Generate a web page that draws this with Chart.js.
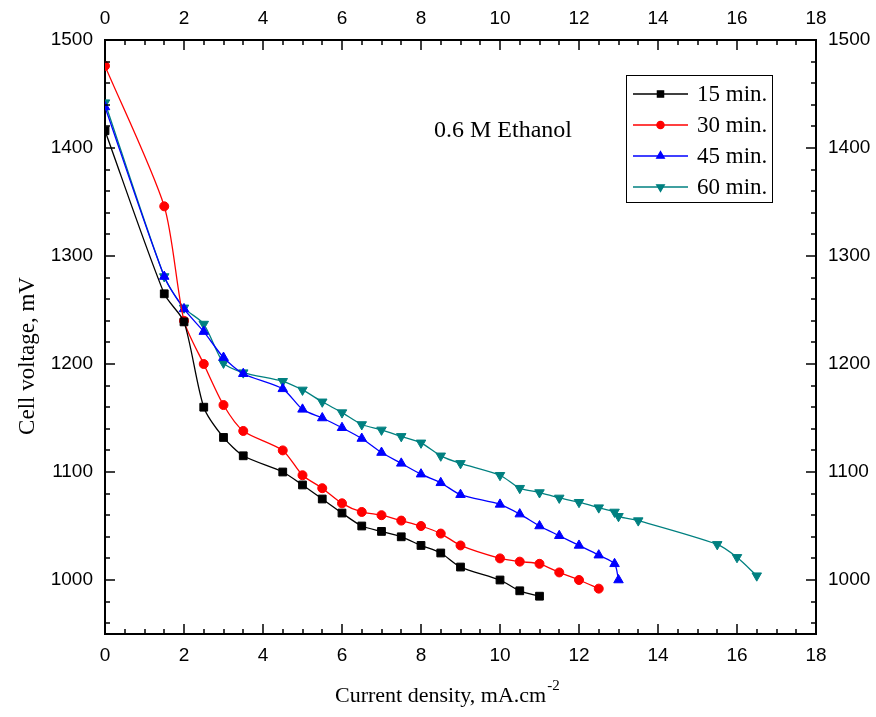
<!DOCTYPE html>
<html>
<head>
<meta charset="utf-8">
<script src="https://cdn.jsdelivr.net/npm/chart.js@4"></script>
<style>
  html, body { margin: 0; padding: 0; background: #fff; }
  #wrap { width: 876px; height: 717px; }
</style>
</head>
<body>
<div id="wrap"><canvas id="cv" width="876" height="717"></canvas></div>
<script>
// current density, mA.cm-2 / cell voltage, mV
const x15 = [0, 1.5, 2, 2.5, 3, 3.5, 4.5, 5, 5.5, 6, 6.5, 7, 7.5, 8, 8.5, 9, 10, 10.5, 11];
const v15 = [1416, 1265, 1239, 1160, 1132, 1115, 1100, 1088, 1075, 1062, 1050, 1045, 1040, 1032, 1025, 1012, 1000, 990, 985];

const x30 = [0, 1.5, 2, 2.5, 3, 3.5, 4.5, 5, 5.5, 6, 6.5, 7, 7.5, 8, 8.5, 9, 10, 10.5, 11, 11.5, 12, 12.5];
const v30 = [1476, 1346, 1240, 1200, 1162, 1138, 1120, 1097, 1085, 1071, 1063, 1060, 1055, 1050, 1043, 1032, 1020, 1017, 1015, 1007, 1000, 992];

const x45 = [0, 1.5, 2, 2.5, 3, 3.5, 4.5, 5, 5.5, 6, 6.5, 7, 7.5, 8, 8.5, 9, 10, 10.5, 11, 11.5, 12, 12.5, 12.9, 13];
const v45 = [1438, 1281, 1251, 1230, 1206, 1191, 1177, 1158, 1150, 1141, 1131, 1118, 1108, 1098, 1090, 1079, 1070, 1061, 1050, 1041, 1032, 1023, 1015, 1000];

const x60 = [0, 1.5, 2, 2.5, 3, 3.5, 4.5, 5, 5.5, 6, 6.5, 7, 7.5, 8, 8.5, 9, 10, 10.5, 11, 11.5, 12, 12.5, 12.9, 13, 13.5, 15.5, 16, 16.5];
const v60 = [1442, 1281, 1252, 1237, 1201, 1192, 1184, 1176, 1165, 1155, 1144, 1139, 1133, 1127, 1115, 1108, 1097, 1085, 1081, 1076, 1072, 1067, 1063, 1059, 1055, 1033, 1021, 1004];

const seriesLabels = ["15 min.", "30 min.", "45 min.", "60 min."];
const xTicks = [0, 2, 4, 6, 8, 10, 12, 14, 16, 18];
const yTicks = [1000, 1100, 1200, 1300, 1400, 1500];

const tickFont = { family: "'Liberation Sans', Arial, sans-serif", size: 19 };
const serif = "'Liberation Serif', 'Times New Roman', serif";

function pts(xs, ys) {
  return xs.map((x, i) => ({ x: x, y: ys[i] }));
}

function makeSet(label, xs, ys, color, style, radius, rot) {
  return {
    label: label,
    data: pts(xs, ys),
    borderColor: color,
    backgroundColor: color,
    borderWidth: 1.3,
    pointStyle: style,
    pointRadius: radius,
    pointRotation: rot || 0,
    pointBorderWidth: 1,
    tension: 0.25,
    fill: false,
  };
}

function xScale(pos, h) {
  return {
    type: "linear",
    position: pos,
    min: 0,
    max: 18,
    afterBuildTicks: (s) => { s.ticks = xTicks.map((v) => ({ value: v })); },
    afterFit: (s) => { s.height = h; },
    ticks: { font: tickFont, color: "#000", padding: 10, maxRotation: 0, callback: (v) => String(v) },
    grid: { drawOnChartArea: false, drawTicks: false },
    border: { color: "#000", width: 2 },
  };
}

function yScale(pos, w) {
  return {
    type: "linear",
    position: pos,
    min: 950,
    max: 1500,
    afterBuildTicks: (s) => { s.ticks = yTicks.map((v) => ({ value: v })); },
    afterFit: (s) => { s.width = w; },
    ticks: { font: tickFont, color: "#000", padding: 12, callback: (v) => String(v) },
    grid: { drawOnChartArea: false, drawTicks: false },
    border: { color: "#000", width: 2 },
  };
}

// inward ticks, legend box and the text labels
const decor = {
  id: "decor",
  afterDatasetsDraw(chart) {
    const ctx = chart.ctx;
    const a = chart.chartArea;
    const sx = chart.scales.x, sy = chart.scales.y;
    ctx.save();
    ctx.strokeStyle = "#000";
    ctx.lineWidth = 1.5;
    ctx.beginPath();
    for (let v = 0; v <= 18.001; v += 0.5) {
      const px = Math.round(sx.getPixelForValue(v));
      const len = Math.abs(v % 2) < 0.01 ? 10 : 5;
      ctx.moveTo(px, a.bottom); ctx.lineTo(px, a.bottom - len);
      ctx.moveTo(px, a.top); ctx.lineTo(px, a.top + len);
    }
    for (let v = 960; v <= 1500; v += 20) {
      const py = Math.round(sy.getPixelForValue(v));
      const len = v % 100 === 0 ? 10 : 5;
      ctx.moveTo(a.left, py); ctx.lineTo(a.left + len, py);
      ctx.moveTo(a.right, py); ctx.lineTo(a.right - len, py);
    }
    ctx.stroke();

    // legend
    ctx.lineWidth = 1;
    ctx.strokeRect(626.5, 75.5, 146, 127);
    ctx.font = "23px " + serif;
    ctx.textBaseline = "middle";
    ctx.textAlign = "left";
    ctx.fillStyle = "#000";
    chart.data.datasets.forEach((ds, i) => {
      const yy = 94 + i * 31;
      ctx.strokeStyle = ds.borderColor;
      ctx.lineWidth = 1.3;
      ctx.beginPath();
      ctx.moveTo(633, yy); ctx.lineTo(688, yy);
      ctx.stroke();
      ctx.fillStyle = ds.backgroundColor;
      ctx.strokeStyle = ds.borderColor;
      Chart.helpers.drawPoint(ctx, {
        pointStyle: ds.pointStyle, rotation: ds.pointRotation,
        radius: ds.pointRadius * 0.8, borderWidth: 1,
      }, 660.5, yy);
      ctx.fillStyle = "#000";
      ctx.fillText(ds.label, 697, yy + 1);
    });

    // annotation
    ctx.font = "24px " + serif;
    ctx.fillText("0.6 M Ethanol", 434, 131);

    // x title with superscript
    ctx.font = "22px " + serif;
    ctx.textBaseline = "alphabetic";
    const t = "Current density, mA.cm";
    ctx.fillText(t, 335, 702);
    const tw = ctx.measureText(t).width;
    ctx.font = "15px " + serif;
    ctx.fillText("-2", 335 + tw + 1, 690);

    // y title
    ctx.translate(28, 356);
    ctx.rotate(-Math.PI / 2);
    ctx.font = "23px " + serif;
    ctx.textAlign = "center";
    ctx.textBaseline = "middle";
    ctx.fillText("Cell voltage, mV", 0, 0);
    ctx.restore();
  },
};

new Chart(document.getElementById("cv"), {
  type: "line",
  data: {
    datasets: [
      makeSet(seriesLabels[0], x15, v15, "#000000", "rect", 5.5),
      makeSet(seriesLabels[1], x30, v30, "#ff0000", "circle", 4.5),
      makeSet(seriesLabels[2], x45, v45, "#0000ff", "triangle", 5.5),
      makeSet(seriesLabels[3], x60, v60, "#008080", "triangle", 5.5, 180),
    ],
  },
  options: {
    responsive: false,
    animation: false,
    layout: { padding: 0 },
    plugins: { legend: { display: false }, tooltip: { enabled: false } },
    scales: {
      x: xScale("bottom", 83),
      x2: xScale("top", 40),
      y: yScale("left", 105),
      y2: yScale("right", 60),
    },
  },
  plugins: [decor],
});
</script>
</body>
</html>
